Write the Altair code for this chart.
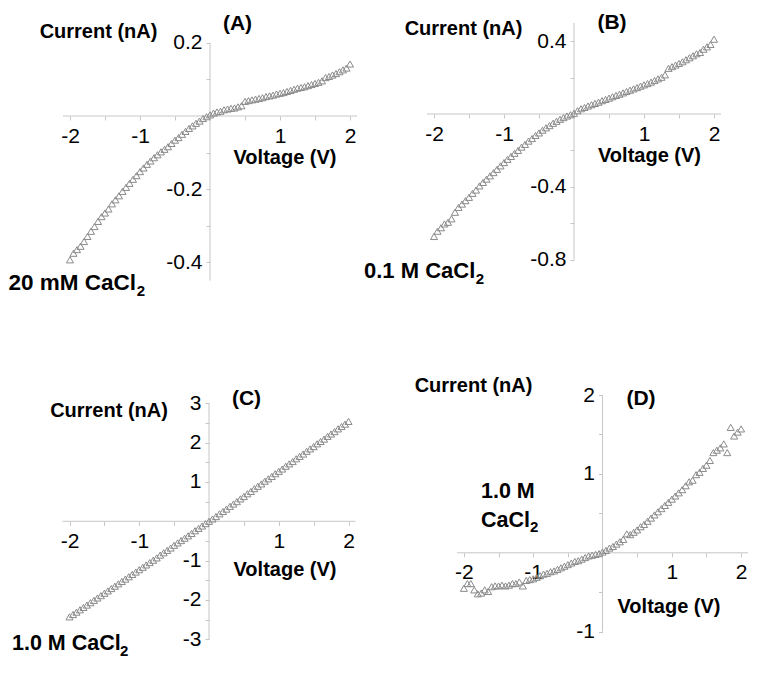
import altair as alt
import pandas as pd

# ---------------- data ----------------
voltage = [-2.0, -1.95, -1.9, -1.85, -1.8, -1.75, -1.7, -1.65, -1.6, -1.55,
           -1.5, -1.45, -1.4, -1.35, -1.3, -1.25, -1.2, -1.15, -1.1, -1.05,
           -1.0, -0.95, -0.9, -0.85, -0.8, -0.75, -0.7, -0.65, -0.6, -0.55,
           -0.5, -0.45, -0.4, -0.35, -0.3, -0.25, -0.2, -0.15, -0.1, -0.05,
           0.0, 0.05, 0.1, 0.15, 0.2, 0.25, 0.3, 0.35, 0.4, 0.45,
           0.5, 0.55, 0.6, 0.65, 0.7, 0.75, 0.8, 0.85, 0.9, 0.95,
           1.0, 1.05, 1.1, 1.15, 1.2, 1.25, 1.3, 1.35, 1.4, 1.45,
           1.5, 1.55, 1.6, 1.65, 1.7, 1.75, 1.8, 1.85, 1.9, 1.95, 2.0]

current_a = [-0.393, -0.375, -0.365, -0.356, -0.343, -0.329, -0.315, -0.302, -0.288, -0.275,
             -0.265, -0.254, -0.240, -0.229, -0.218, -0.206, -0.195, -0.184, -0.173, -0.163,
             -0.152, -0.142, -0.132, -0.123, -0.114, -0.106, -0.098, -0.091, -0.084, -0.075,
             -0.066, -0.059, -0.050, -0.042, -0.034, -0.027, -0.020, -0.014, -0.007, -0.002,
             0.003, 0.008, 0.011, 0.013, 0.017, 0.019, 0.021, 0.022, 0.025, 0.028,
             0.040, 0.042, 0.044, 0.046, 0.048, 0.050, 0.053, 0.055, 0.057, 0.060,
             0.062, 0.064, 0.067, 0.070, 0.073, 0.076, 0.078, 0.080, 0.083, 0.086,
             0.089, 0.092, 0.096, 0.105, 0.108, 0.112, 0.116, 0.121, 0.126, 0.131, 0.142]

current_b = [-0.673, -0.644, -0.625, -0.604, -0.595, -0.576, -0.540, -0.513, -0.495, -0.476,
             -0.458, -0.436, -0.418, -0.395, -0.376, -0.358, -0.340, -0.322, -0.304, -0.285,
             -0.267, -0.249, -0.233, -0.216, -0.200, -0.182, -0.167, -0.149, -0.135, -0.118,
             -0.104, -0.089, -0.076, -0.064, -0.051, -0.040, -0.029, -0.020, -0.011, -0.004,
             0.004, 0.018, 0.029, 0.036, 0.044, 0.051, 0.058, 0.065, 0.073, 0.080,
             0.087, 0.095, 0.102, 0.109, 0.116, 0.124, 0.131, 0.138, 0.145, 0.153,
             0.160, 0.167, 0.175, 0.184, 0.193, 0.202, 0.215, 0.251, 0.260, 0.269,
             0.278, 0.287, 0.298, 0.309, 0.320, 0.331, 0.338, 0.356, 0.369, 0.382, 0.411]

current_c = [-2.43, -2.37, -2.31, -2.25, -2.19, -2.13, -2.07, -2.01, -1.95, -1.89,
             -1.83, -1.77, -1.71, -1.65, -1.59, -1.53, -1.47, -1.41, -1.35, -1.29,
             -1.23, -1.17, -1.11, -1.05, -0.99, -0.93, -0.86, -0.80, -0.74, -0.68,
             -0.61, -0.55, -0.49, -0.43, -0.37, -0.31, -0.24, -0.18, -0.12, -0.06,
             0.00, 0.06, 0.12, 0.19, 0.25, 0.31, 0.38, 0.44, 0.50, 0.57,
             0.63, 0.70, 0.76, 0.83, 0.89, 0.95, 1.02, 1.08, 1.14, 1.21,
             1.27, 1.33, 1.40, 1.46, 1.52, 1.59, 1.65, 1.71, 1.78, 1.84,
             1.90, 1.97, 2.03, 2.09, 2.16, 2.22, 2.28, 2.35, 2.41, 2.47, 2.54]

current_d = [-0.45, -0.39, -0.39, -0.47, -0.52, -0.51, -0.47, -0.49, -0.43, -0.42,
             -0.42, -0.41, -0.42, -0.41, -0.39, -0.39, -0.37, -0.42, -0.35, -0.34,
             -0.33, -0.31, -0.29, -0.27, -0.26, -0.24, -0.23, -0.21, -0.19, -0.17,
             -0.15, -0.13, -0.11, -0.10, -0.08, -0.06, -0.04, -0.03, -0.02, -0.01,
             0.01, 0.03, 0.06, 0.08, 0.11, 0.14, 0.17, 0.24, 0.23, 0.26,
             0.29, 0.33, 0.36, 0.40, 0.44, 0.48, 0.52, 0.56, 0.60, 0.64,
             0.68, 0.72, 0.76, 0.80, 0.85, 0.90, 0.92, 0.99, 1.02, 1.07,
             1.11, 1.17, 1.27, 1.30, 1.33, 1.38, 1.27, 1.59, 1.48, 1.53, 1.57]

x_ticks = [-2, -1.5, -1, -0.5, 0, 0.5, 1, 1.5, 2]
x_label_values = [-2, -1, 1, 2]
x_label_text = ["-2", "-1", "1", "2"]
x_axis_extent = [-2.1, 2.1]

a_y_ticks = [0.2, 0.1, 0, -0.1, -0.2, -0.3, -0.4]
a_label_values = [0.2, -0.2, -0.4]
a_label_text = ["0.2", "-0.2", "-0.4"]
a_y_extent = [-0.45, 0.2]

b_y_ticks = [0.4, 0.2, 0, -0.2, -0.4, -0.6, -0.8]
b_label_values = [0.4, -0.4, -0.8]
b_label_text = ["0.4", "-0.4", "-0.8"]
b_y_extent = [-0.8, 0.5]

c_y_ticks = [3, 2.5, 2, 1.5, 1, 0.5, 0, -0.5, -1, -1.5, -2, -2.5, -3]
c_label_values = [3, 2, 1, -1, -2, -3]
c_label_text = ["3", "2", "1", "-1", "-2", "-3"]
c_y_extent = [-3, 3]

d_y_ticks = [2, 1.5, 1, 0.5, 0, -0.5, -1]
d_label_values = [2, 1, -1]
d_label_text = ["2", "1", "-1"]
d_y_extent = [-1, 2]

y_title = "Current (nA)"
x_title = "Voltage (V)"

# ---------------- style / layout ----------------
FONT = "Liberation Sans"
W_LEFT, W_RIGHT, H = 352, 398, 330
MARK_GRAY = "#8a8a8a"
AXIS_GRAY = "#c6c6c6"
one = pd.DataFrame({"k": [0]})


def label_expr(values, texts):
    expr = "''"
    for v, t in reversed(list(zip(values, texts))):
        expr = f"datum.value == {v} ? '{t}' : ({expr})"
    return expr


def txt(s, x, y, size, align="left", weight="bold"):
    return alt.Chart(one).mark_text(
        text=s, font=FONT, fontSize=size, fontWeight=weight, align=align,
        baseline="alphabetic", color="black"
    ).encode(x=alt.value(x), y=alt.value(y))


def panel(current, W, x0, kx, y0, ky, y_ext, y_ticks, lv, lt, texts):
    df = pd.DataFrame({"V": voltage, "I": current})
    xs = alt.Scale(domain=[-x0 / kx, (W - x0) / kx], nice=False, zero=False)
    ys = alt.Scale(domain=[-(H - y0) / ky, y0 / ky], nice=False, zero=False)
    xaxis = alt.Axis(values=x_ticks, labelExpr=label_expr(x_label_values, x_label_text),
                     offset=-(H - y0), title=None, domain=False, grid=False,
                     tickColor=AXIS_GRAY, tickSize=4, labelPadding=5,
                     labelFont=FONT, labelFontSize=21, labelColor="black",
                     labelOverlap=False, labelFlush=False)
    yaxis = alt.Axis(values=y_ticks, labelExpr=label_expr(lv, lt),
                     offset=-x0, title=None, domain=False, grid=False,
                     tickColor=AXIS_GRAY, tickSize=4, labelPadding=4,
                     labelFont=FONT, labelFontSize=21, labelColor="black",
                     labelOverlap=False, labelFlush=False)
    xline = alt.Chart(one).mark_rule(color=AXIS_GRAY, strokeWidth=1).encode(
        x=alt.XDatum(x_axis_extent[0], scale=xs, axis=xaxis),
        x2=alt.X2Datum(x_axis_extent[1]),
        y=alt.YDatum(0, scale=ys, axis=yaxis),
    )
    yline = alt.Chart(one).mark_rule(color=AXIS_GRAY, strokeWidth=1).encode(
        x=alt.XDatum(0, scale=xs, axis=xaxis),
        y=alt.YDatum(y_ext[0], scale=ys, axis=yaxis),
        y2=alt.Y2Datum(y_ext[1]),
    )
    pts = alt.Chart(df).mark_point(
        shape="triangle-up", filled=False, size=50, color=MARK_GRAY,
        strokeWidth=1, opacity=1
    ).encode(
        x=alt.X("V:Q", scale=xs, axis=xaxis),
        y=alt.Y("I:Q", scale=ys, axis=yaxis),
    )
    layers = [xline, yline, pts] + [txt(*t) for t in texts]
    return alt.layer(*layers).properties(width=W, height=H)


pa = panel(current_a, W_LEFT, 202, 70, 108, 366, a_y_extent, a_y_ticks, a_label_values, a_label_text, [
    (y_title, 90.5, 30, 20, "center"),
    ("(A)", 229.5, 21.5, 21, "center"),
    (x_title, 277, 156, 20, "center"),
    ("20 mM CaCl", 0.5, 282, 22.5),
    ("2", 128.7, 288, 15),
])
pb = panel(current_b, W_RIGHT, 214, 70, 106, 182, b_y_extent, b_y_ticks, b_label_values, b_label_text, [
    (y_title, 103.5, 27, 20, "center"),
    ("(B)", 252, 20.5, 21, "center"),
    (x_title, 289.5, 154, 20, "center"),
    ("0.1 M CaCl", 4, 270, 22),
    ("2", 115.7, 276, 15),
])
pc = panel(current_c, W_LEFT, 201, 69.75, 183.3, 39.33, c_y_extent, c_y_ticks, c_label_values, c_label_text, [
    (y_title, 101, 79.3, 20, "center"),
    ("(C)", 238.5, 67, 21, "center"),
    (x_title, 277, 238, 20, "center"),
    ("1.0 M CaCl", 4, 312, 21.5),
    ("2", 112, 318, 15),
])
pd_ = panel(current_d, W_RIGHT, 242.5, 69.3, 214.8, 78.9, d_y_extent, d_y_ticks, d_label_values, d_label_text, [
    (y_title, 113.5, 53.7, 20, "center"),
    ("(D)", 281, 67, 21, "center"),
    (x_title, 309, 274.5, 20, "center"),
    ("1.0 M", 121, 160.3, 21.5),
    ("CaCl", 121, 188.7, 21.5),
    ("2", 170, 194, 15),
])

top = alt.hconcat(pa, pb, spacing=0)
bottom = alt.hconcat(pc, pd_, spacing=0)
chart = alt.vconcat(top, bottom, spacing=0).properties(
    padding=0, background="white"
).configure_view(stroke=None)

chart.save("out.html", embed_options={"renderer": "svg", "actions": False})
